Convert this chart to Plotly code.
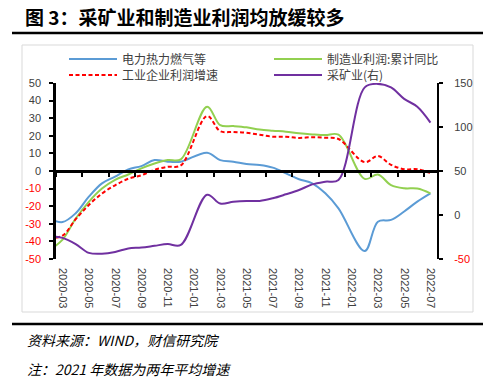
import plotly.graph_objects as go

# ---------------- data ----------------
months = ["2020-02", "2020-03", "2020-04", "2020-05", "2020-06", "2020-07", "2020-08",
          "2020-09", "2020-10", "2020-11", "2020-12", "2021-01", "2021-02", "2021-03",
          "2021-04", "2021-05", "2021-06", "2021-07", "2021-08", "2021-09", "2021-10",
          "2021-11", "2021-12", "2022-01", "2022-02", "2022-03", "2022-04", "2022-05",
          "2022-06", "2022-07"]

power_heat_gas = [-27, -29, -24, -14.6, -7, -3.2, 0.9, 2.8, 6.2, 5.3, 5.3, None, 10.4, 6.2,
                  5.3, 4.0, 3.4, 1.9, -1.3, -4.7, -7, -12.7, -21.2, None, -45.5, -28.8,
                  -27.8, -23, -17.4, -12.7]
manufacturing = [-45, -39, -27, -17.5, -10, -5, -2, 1.5, 4.3, 6.2, 6.6, None, 36.5, 26,
                 25.5, 24.8, 23.6, 22.9, 22.3, 21.4, 20.8, 20.4, 20.6, None, -4.5, -2,
                 -8, -9.8, -10, -12.7]
industrial_total = [-38.3, -36.7, -27.4, -19.3, -12.8, -8.1, -4.4, -2.4, 0.7, 2.4, 3.2, None,
                    31.2, 22.6, 22.2, 21.7, 20.6, 19.5, 19.5, 18.8, 19.2, 18.9, 18.2, None,
                    5.0, 8.5, 3.5, 1.0, 1.0, -1.1]
mining_right = [-24, -26, -33, -43, -44, -42, -38, -37, -35, -33, -34, None, 23, 13, 15, 16,
                16, 19, 23.5, 28.4, 34.8, 37.9, 39.8, None, 145, 149, 145, 132, 123, 105]

tick_months = months[1::2]
left_ticks = [50, 40, 30, 20, 10, 0, -10, -20, -30, -40, -50]
right_ticks = [150, 100, 50, 0, -50]

names = ["电力热力燃气等", "制造业利润:累计同比", "工业企业利润增速", "采矿业(右)"]
title_text = "图 3：采矿业和制造业利润均放缓较多"
source_text = "资料来源：WIND，财信研究院"
note_text = "注：2021 年数据为两年平均增速"

# ---------------- layout helpers ----------------
WID, HEI = 500, 382
L, R, T, B = 56, 63, 83, 123
PW, PH = WID - L - R, HEI - T - B


def px(x):
    return (x - L) / PW


def py(y):
    return (HEI - B - y) / PH


LEFT_RANGE = [-50, 50]
RIGHT_RANGE = [-50, 150]
XR = [0.5, len(months) - 0.5]

RED = "#FF0000"
TXT = "#404040"
FONT = "Liberation Sans, Arial, sans-serif"
CJK = "Noto Sans CJK SC, sans-serif"


def colored(v):
    s = str(v)
    return f'<span style="color:{RED}">{s}</span>' if v < 0 else s


fig = go.Figure()

common = dict(mode="lines", line_shape="spline", connectgaps=True, hoverinfo="skip")
fig.add_trace(go.Scatter(x=months, y=power_heat_gas, name=names[0],
                         line=dict(color="#5B9BD5", width=2, smoothing=1), legend="legend", **common))
fig.add_trace(go.Scatter(x=months, y=manufacturing, name=names[1],
                         line=dict(color="#92D050", width=2, smoothing=1), legend="legend2", **common))
fig.add_trace(go.Scatter(x=months, y=industrial_total, name=names[2],
                         line=dict(color=RED, width=2, dash="4px,2.5px", smoothing=1),
                         legend="legend3", **common))
fig.add_trace(go.Scatter(x=months, y=mining_right, name=names[3], yaxis="y2",
                         line=dict(color="#7030A0", width=2, smoothing=1), legend="legend4", **common))
# carrier for the zero-line axis with boundary ticks
fig.add_trace(go.Scatter(x=[], y=[], xaxis="x2", showlegend=False, hoverinfo="skip"))

zero_pos = (0 - LEFT_RANGE[0]) / (LEFT_RANGE[1] - LEFT_RANGE[0])


def legend_at(x, y):
    return dict(orientation="h", xref="container", yref="container",
                x=x / WID, xanchor="left", y=1 - y / HEI, yanchor="middle",
                itemwidth=48, bgcolor="rgba(0,0,0,0)",
                font=dict(family=CJK, size=12, color=TXT))


fig.update_layout(
    width=WID, height=HEI,
    margin=dict(l=L, r=R, t=T, b=B, pad=0, autoexpand=False),
    paper_bgcolor="white", plot_bgcolor="white",
    font=dict(family=FONT, size=11, color=TXT),
    showlegend=True,
    title=dict(text=title_text, x=25 / WID, xanchor="left", xref="container",
               y=1 - 18 / HEI, yanchor="middle", yref="container",
               font=dict(family=CJK, size=19, color="#000000", weight="bold")),
    xaxis=dict(type="category", range=XR, tickmode="array", tickvals=tick_months,
               ticktext=tick_months, tickangle=90, ticks="", showline=False,
               showgrid=False, zeroline=False, ticklabelstandoff=8,
               tickfont=dict(family=FONT, size=11, color=TXT)),
    xaxis2=dict(overlaying="x", anchor="free", position=zero_pos, side="bottom",
                range=XR, type="linear", tickmode="array",
                tickvals=[XR[0] + 2 * k for k in range(15)],
                showticklabels=False, ticks="outside", ticklen=4, tickwidth=2,
                tickcolor="black", showline=True, linecolor="black", linewidth=2.5,
                showgrid=False, zeroline=False),
    yaxis=dict(range=LEFT_RANGE, tickmode="array", tickvals=left_ticks,
               ticktext=[colored(v) for v in left_ticks], ticks="outside", ticklen=4,
               tickwidth=2, tickcolor="black", showline=True, linecolor="black",
               linewidth=2.5, showgrid=False, zeroline=False, ticklabelstandoff=6,
               tickfont=dict(family=FONT, size=11, color=TXT)),
    yaxis2=dict(overlaying="y", side="right", range=RIGHT_RANGE, tickmode="array",
                tickvals=right_ticks, ticktext=[colored(v) for v in right_ticks],
                ticks="outside", ticklen=4, tickwidth=2, tickcolor="black",
                showline=True, linecolor="black", linewidth=2, showgrid=False,
                zeroline=False, ticklabelstandoff=9,
                tickfont=dict(family=FONT, size=11, color=TXT)),
    legend=legend_at(64, 59),
    legend2=legend_at(269, 59),
    legend3=legend_at(64, 75),
    legend4=legend_at(269, 75),
)

shapes = [
    dict(type="rect", xref="paper", yref="paper", x0=px(22), x1=px(473), y0=py(312), y1=py(45),
         line=dict(color="#D9D9D9", width=1), layer="below"),
    dict(type="line", xref="paper", yref="paper", x0=px(12), x1=px(483), y0=py(33), y1=py(33),
         line=dict(color="black", width=2.5)),
    dict(type="line", xref="paper", yref="paper", x0=px(12), x1=px(483), y0=py(324), y1=py(324),
         line=dict(color="black", width=2.5)),
]
fig.update_layout(shapes=shapes)

fig.add_annotation(text=source_text, xref="paper", yref="paper", x=px(25), y=py(340),
                   xanchor="left", yanchor="middle", showarrow=False,
                   font=dict(family=CJK, size=14, color="#000000", style="italic"))
fig.add_annotation(text=note_text, xref="paper", yref="paper", x=px(25), y=py(369),
                   xanchor="left", yanchor="middle", showarrow=False,
                   font=dict(family=CJK, size=14, color="#000000", style="italic"))

fig.write_html("out.html", config={"displayModeBar": False},
               post_script="document.body.style.margin='0';document.body.style.padding='0';")
